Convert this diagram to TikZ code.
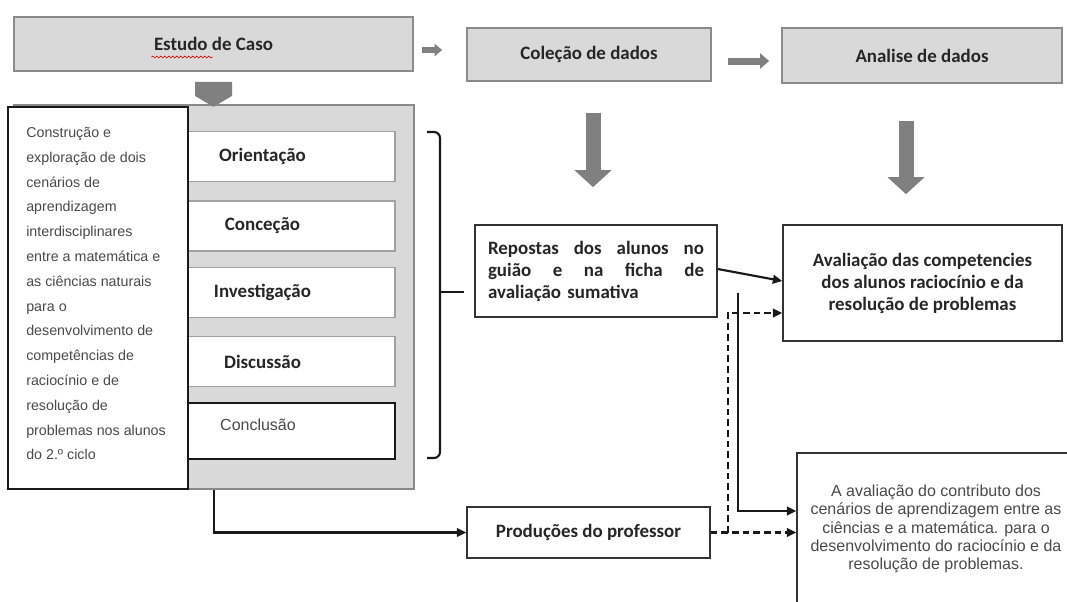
\documentclass[tikz,border=0pt]{standalone}
\usepackage{fontspec}
\setmainfont{Liberation Sans}
\newfontfamily\carlito{Carlito}
\usetikzlibrary{arrows.meta,decorations.pathmorphing,calc}
\definecolor{boxfill}{HTML}{D9D9D9}
\definecolor{boxborder}{HTML}{8A8A8A}
\definecolor{arrowgray}{HTML}{808080}
\definecolor{txtgray}{HTML}{4A4A4A}
\newcommand\boldlab{\carlito\bfseries\fontsize{14.2}{16.5}\selectfont}
\newcommand\spreadline[1]{\leavevmode\hbox to 162pt{#1}}
\tikzset{
  topbox/.style={draw=boxborder, fill=boxfill, line width=1.3pt, inner sep=0pt, font=\boldlab, text=black!85},
  stagebox/.style={draw=boxborder!80, fill=white, line width=1.2pt, inner sep=0pt, minimum width=198.75pt, minimum height=37.5pt, font=\boldlab, text=black!85},
  whitebox/.style={draw=black!80, fill=white, line width=1.2pt, inner sep=0pt},
  blockA/.style={draw=arrowgray, line width=4.5pt, -{Triangle[length=5.6pt,width=9pt]}},
  blockB/.style={draw=arrowgray, line width=5.25pt, -{Triangle[length=6.75pt,width=11.25pt]}},
  blockV/.style={draw=arrowgray, line width=11.25pt, -{Triangle[length=12.75pt,width=27pt]}},
  conn/.style={draw=black!90, line width=1.6pt, -{Triangle[length=7pt,width=6.5pt]}},
  dconn/.style={conn, dash pattern=on 5pt off 3pt},
  bracepath/.style={draw=black!90, line width=1.6pt},
}
\begin{document}
\begin{tikzpicture}[x=0.75pt,y=-0.75pt]
\useasboundingbox (0,0) rectangle (1067,601);
\clip (0,0) rectangle (1067,601);

% top row
\node[topbox, minimum width=299.25pt, minimum height=40.5pt] (estudo) at (213.5,44) {Estudo de Caso};
\node[topbox, minimum width=183pt, minimum height=39.75pt] (colecao) at (589,54.5) {Coleção de dados};
\node[topbox, minimum width=210pt, minimum height=41.25pt] (analise) at (922,55.5) {Analise de dados};
\draw[red!85!black, line width=0.5pt, decorate, decoration={snake, amplitude=0.7pt, segment length=3pt}] (151.5,57) -- (212.5,57);

% case study block
\node[draw=boxborder, fill=boxfill, line width=1.3pt, minimum width=300pt, minimum height=288pt, inner sep=0pt] (caso) at (214,297) {};
\node[stagebox] (orient) at (262.5,156.5) {Orientação};
\node[stagebox] (concep) at (262.5,226) {Conceção};
\node[stagebox] (invest) at (262.5,292.5) {Investigação};
\node[stagebox] (discus) at (262.5,361.5) {Discussão};
\node[stagebox, draw=black!90, minimum height=42pt] (conclu) at (262.5,431) {};
\node[text=txtgray, font=\fontsize{12}{14}\selectfont, inner sep=0pt] (conclab) at (258,425) {Conclusão};

\node[whitebox, draw=black!90, minimum width=135pt, minimum height=286.5pt] (descbox) at (98,298) {};
\node[anchor=north west, inner sep=0pt, align=left, text=txtgray, font=\fontsize{10.7}{18.6}\selectfont] (desc) at (26,127) {Construção e\\exploração de dois\\cenários de\\aprendizagem\\interdisciplinares\\entre a matemática e\\as ciências naturais\\para o\\desenvolvimento de\\competências de\\raciocínio e de\\resolução de\\problemas nos alunos\\do 2.º ciclo};

\fill[arrowgray] ([shift={(-18.5,10)}]estudo.south) -- ++(37,0) -- ++(0,14) -- ++(-18.5,11) -- ++(-18.5,-11) -- cycle;

% right column
\node[whitebox, minimum width=181.5pt, minimum height=69pt, align=left, text width=162pt, font=\boldlab, text=black!85] (repostas) at (596,271) {\spreadline{Repostas\hfill dos\hfill alunos\hfill no}\\\spreadline{guião\hfill e\hfill na\hfill ficha\hfill de}\\avaliação sumativa};
\node[whitebox, minimum width=209.25pt, minimum height=87pt, align=center, font=\boldlab, text=black!85] (compet) at (922.5,283) {Avaliação das competencies\\dos alunos raciocínio e da\\resolução de problemas};
\node[whitebox, minimum width=182.25pt, minimum height=38.25pt, font=\boldlab, text=black!85] (produc) at (588.5,532.5) {Produções do professor};
\node[whitebox, minimum width=208.5pt, minimum height=114pt, align=center, text=txtgray, font=\fontsize{12}{13.8}\selectfont] (contrib) at (936,529) {A avaliação do contributo dos\\cenários de aprendizagem entre as\\ciências e a matemática. para o\\desenvolvimento do raciocínio e da\\resolução de problemas.};

% block arrows
\draw[blockA] ([shift={(8,6)}]estudo.east) -- ([shift={(-24,-4.5)}]colecao.west);
\draw[blockB] ([shift={(16,6.5)}]colecao.east) -- ([shift={(-12,5.5)}]analise.west);
\draw[blockV] ([shift={(4,31)}]colecao.south) -- ([shift={(-3,-37)}]repostas.north);
\draw[blockV] ([shift={(-16,37)}]analise.south) -- ([shift={(-16.5,-30)}]compet.north);

% brace
\coordinate (bracemid) at (440,292);
\coordinate (bracetip) at ([shift={(-10,21)}]repostas.west);
\draw[bracepath] (427,132) -- (434,132) to[out=0,in=90] (440,138) -- (440,452) to[out=-90,in=0] (434,458) -- (427,458);
\draw[bracepath] (bracemid) -- (bracemid -| bracetip);

% connectors
\draw[conn] (caso.south) |- (produc.west);
\draw[conn] ([shift={(0,-2)}]repostas.east) -- ([shift={(0,-2)}]compet.west);
\coordinate (solidtop) at (738,293);
\draw[conn] (solidtop) |- ([shift={(0,-18)}]contrib.west);
\draw[dconn] (produc.east) -- (produc.east -| contrib.west);
\draw[dconn] ([shift={(17,0)}]produc.east) |- ([shift={(0,30)}]compet.west);
\end{tikzpicture}
\end{document}
